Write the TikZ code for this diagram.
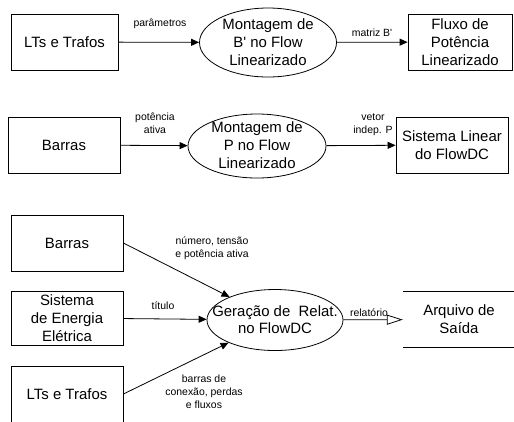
\documentclass[tikz,border=0pt]{standalone}
\usepackage{fontspec}
\setmainfont{Liberation Sans}
\usetikzlibrary{shapes.geometric,arrows.meta}

\begin{document}
\begin{tikzpicture}[x=1bp,y=-1bp,
   caixa/.style={draw,line width=0.8bp,minimum width=112bp,minimum height=56bp,
      inner sep=0pt,align=center,font=\fontsize{15}{18}\selectfont},
   processo/.style={draw,ellipse,line width=0.8bp,inner sep=0pt},
   texto/.style={align=center,inner sep=0pt,font=\fontsize{15}{18}\selectfont},
   rotulo/.style={align=center,inner sep=0pt,font=\fontsize{10.5}{13}\selectfont},
   fluxo/.style={line width=0.8bp,-{Triangle[length=8bp,width=7bp]}},
   saida/.style={line width=0.8bp,-{Triangle[open,length=16bp,width=10bp]}}]

   \useasboundingbox (0,0) rectangle (514,421);

   \node[caixa,minimum width=107bp] (lts1) at (64.5,42) {LTs e Trafos};
   \node[processo,minimum width=137bp,minimum height=69bp] (mont1) at (268,42.5) {};
   \node[texto] (mont1t) at (mont1) {Montagem de\\B\textquotesingle{} no Flow\\Linearizado};
   \node[caixa,minimum width=104bp] (fluxo1) at (460,42) {Fluxo de\\Potência\\Linearizado};
   \draw[fluxo] (lts1) -- (mont1);
   \draw[fluxo] (mont1) -- (fluxo1);
   \node[rotulo] (parm) at (160,24) {parâmetros};
   \node[rotulo] (matb) at (372,33) {matriz B\textquotesingle};

   \node[caixa] (barras2) at (64,145) {Barras};
   \node[processo,minimum width=138bp,minimum height=64bp] (mont2) at (257,146) {};
   \node[texto] (mont2t) at (257,145) {Montagem de\\P no Flow\\Linearizado};
   \node[caixa] (sist2) at (452,145) {Sistema Linear\\do FlowDC};
   \draw[fluxo] (barras2) -- (mont2);
   \draw[fluxo] (mont2) -- (sist2);
   \node[rotulo] (pot) at (155,123) {potência\\ativa};
   \node[rotulo] (vet) at (373,125) {vetor\\indep. P};

   \node[caixa] (barras3) at (67,243) {Barras};
   \node[caixa,minimum height=54bp] (sep) at (67,318) {Sistema\\de Energia\\Elétrica};
   \node[caixa] (lts3) at (67,394) {LTs e Trafos};
   \node[processo,minimum width=136bp,minimum height=61bp] (gera) at (275,320) {};
   \node[texto,font=\fontsize{15}{17}\selectfont] (gerat) at (gera) {Geração de \ Relat.\\no FlowDC};
   \node[texto,minimum width=112bp,minimum height=55bp] (arq) at (459,319.5) {Arquivo de\\Saída};
   \draw[line width=0.8bp] (arq.north west) -- (arq.north east);
   \draw[line width=0.8bp] (arq.south west) -- (arq.south east);
   \draw[fluxo] (barras3.east) -- (gera);
   \draw[fluxo] (sep) -- (gera);
   \draw[fluxo] (lts3.east) -- (gera);
   \draw[saida] (gera) -- (arq);
   \node[rotulo] (num) at (212,248) {número, tensão\\e potência ativa};
   \node[rotulo] (tit) at (163,306) {título};
   \node[rotulo] (rel) at (369,313) {relatório};
   \node[rotulo] (bar) at (204,392) {barras de\\conexão, perdas\\e fluxos};

\end{tikzpicture}
\end{document}
